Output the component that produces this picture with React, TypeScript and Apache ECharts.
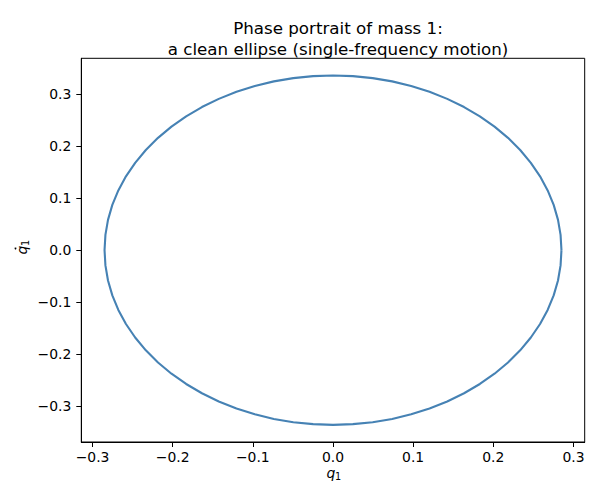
import React, { useEffect, useRef } from "react";
import * as echarts from "echarts";

// trajectory of mass 1 (one loop, 5 degree steps)
const q1 = [
  0.285, 0.2839, 0.2807, 0.2753, 0.2678, 0.2583, 0.2468, 0.2335, 0.2183, 0.2015, 0.1832, 0.1635, 0.1425, 0.1204, 0.0975, 0.0738, 0.0495, 0.0248, 0.0,
  -0.0248, -0.0495, -0.0738, -0.0975, -0.1204, -0.1425, -0.1635, -0.1832, -0.2015, -0.2183, -0.2335, -0.2468, -0.2583, -0.2678, -0.2753, -0.2807, -0.2839, -0.285,
  -0.2839, -0.2807, -0.2753, -0.2678, -0.2583, -0.2468, -0.2335, -0.2183, -0.2015, -0.1832, -0.1635, -0.1425, -0.1204, -0.0975, -0.0738, -0.0495, -0.0248, 0.0,
  0.0248, 0.0495, 0.0738, 0.0975, 0.1204, 0.1425, 0.1635, 0.1832, 0.2015, 0.2183, 0.2335, 0.2468, 0.2583, 0.2678, 0.2753, 0.2807, 0.2839, 0.285,
];
const q1dot = [
  0.0, 0.0293, 0.0583, 0.087, 0.1149, 0.142, 0.168, 0.1927, 0.216, 0.2376, 0.2574, 0.2752, 0.291, 0.3045, 0.3157, 0.3246, 0.3309, 0.3347, 0.336,
  0.3347, 0.3309, 0.3246, 0.3157, 0.3045, 0.291, 0.2752, 0.2574, 0.2376, 0.216, 0.1927, 0.168, 0.142, 0.1149, 0.087, 0.0583, 0.0293, 0.0,
  -0.0293, -0.0583, -0.087, -0.1149, -0.142, -0.168, -0.1927, -0.216, -0.2376, -0.2574, -0.2752, -0.291, -0.3045, -0.3157, -0.3246, -0.3309, -0.3347, -0.336,
  -0.3347, -0.3309, -0.3246, -0.3157, -0.3045, -0.291, -0.2752, -0.2574, -0.2376, -0.216, -0.1927, -0.168, -0.142, -0.1149, -0.087, -0.0583, -0.0293, 0.0,
];

const xTicks = [-0.3, -0.2, -0.1, 0.0, 0.1, 0.2, 0.3];
const yTicks = [-0.3, -0.2, -0.1, 0.0, 0.1, 0.2, 0.3];

const FONT = "DejaVu Sans";
const fmt = (v: number) => (v < 0 ? "\u2212" : "") + Math.abs(v).toFixed(1);

const italic = { fontFamily: FONT, fontStyle: "italic", fontSize: 13.9, fill: "#000", align: "center", verticalAlign: "middle" };
const sub = { fontFamily: FONT, fontSize: 9.7, fill: "#000", align: "center", verticalAlign: "middle" };

export default function App() {
  const chartRef = useRef<HTMLDivElement>(null);

  useEffect(() => {
    document.body.style.margin = "0";
    if (!chartRef.current) return;
    const chart = echarts.init(chartRef.current, undefined, { renderer: "svg" });

    const axisCommon = {
      type: "value" as const,
      axisLine: { show: true, onZero: false, lineStyle: { color: "#000", width: 1 } },
      splitLine: { show: false },
      axisTick: { show: true, length: 5, lineStyle: { color: "#000", width: 1 } },
      axisLabel: {
        color: "#000",
        fontFamily: FONT,
        fontSize: 13.9,
        formatter: (v: number) => fmt(v),
      },
    };

    chart.setOption({
      animation: false,
      backgroundColor: "#fff",
      title: {
        text: "Phase portrait of mass 1:\na clean ellipse (single-frequency motion)",
        left: 333,
        top: 13,
        textAlign: "center",
        textStyle: {
          fontFamily: FONT,
          fontSize: 16.7,
          fontWeight: "normal",
          color: "#000",
          lineHeight: 20.5,
        },
      },
      grid: {
        left: 81.3,
        right: 15.3,
        top: 58.3,
        bottom: 58,
        show: true,
        borderColor: "#000",
        borderWidth: 1,
        backgroundColor: "transparent",
      },
      xAxis: {
        ...axisCommon,
        min: -0.314,
        max: 0.314,
        axisTick: { ...axisCommon.axisTick, customValues: xTicks },
        axisLabel: { ...axisCommon.axisLabel, margin: 8, customValues: xTicks },
      },
      yAxis: {
        ...axisCommon,
        min: -0.369,
        max: 0.369,
        axisTick: { ...axisCommon.axisTick, customValues: yTicks },
        axisLabel: { ...axisCommon.axisLabel, margin: 10, customValues: yTicks },
      },
      graphic: [
        {
          // x label: q_1
          type: "group",
          x: 331,
          y: 473,
          children: [
            { type: "text", x: 0, y: 0, style: { ...italic, text: "q" } },
            { type: "text", x: 7, y: 3, style: { ...sub, text: "1" } },
          ],
        },
        {
          // y label: dotted q_1, reading upwards
          type: "group",
          x: 22,
          y: 250,
          rotation: Math.PI / 2,
          children: [
            { type: "text", x: 0, y: 0, style: { ...italic, text: "q" } },
            { type: "circle", shape: { cx: 1.5, cy: -6.5, r: 0.9 }, style: { fill: "#000" } },
            { type: "text", x: 7, y: 3, style: { ...sub, text: "1" } },
          ],
        },
      ],
      series: [
        {
          type: "line",
          data: q1.map((q, i) => [q, q1dot[i]]),
          symbol: "none",
          smooth: false,
          lineStyle: { color: "#4682b4", width: 2.1 },
        },
      ],
    });

    return () => chart.dispose();
  }, []);

  return <div ref={chartRef} style={{ width: 600, height: 500 }} />;
}
